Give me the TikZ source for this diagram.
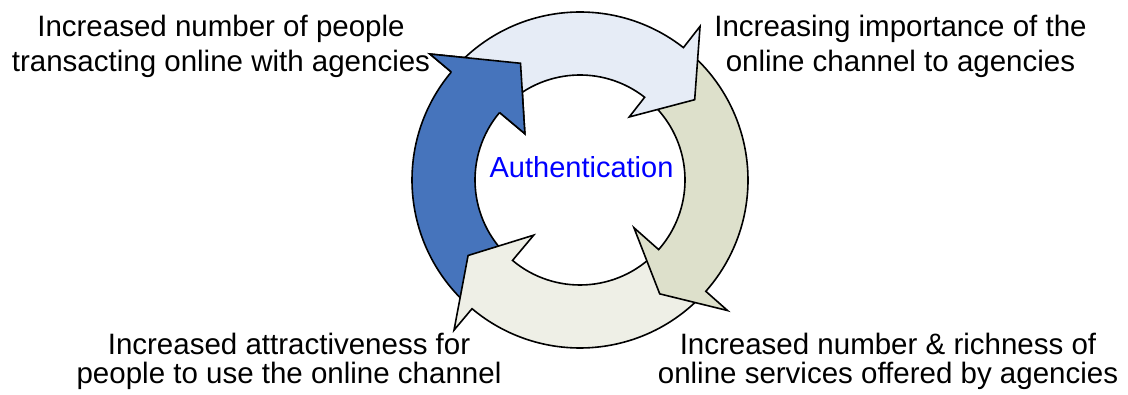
\documentclass[tikz,border=0pt]{standalone}
\usepackage{fontspec}
\setmainfont{Liberation Sans}
\usepackage{xcolor}
\definecolor{arrowblue}{RGB}{70,116,188}
\definecolor{arrowpale}{RGB}{230,236,246}
\definecolor{arrowsage}{RGB}{221,224,203}
\definecolor{arrowcream}{RGB}{238,239,230}
\definecolor{authblue}{RGB}{0,0,255}

\begin{document}
\begin{tikzpicture}[x=1pt,y=1pt]
\tikzstyle{every node}+=[inner sep=0pt]
\tikzstyle{steptext}=[align=center,font=\fontsize{29.5}{35}\selectfont]
\tikzstyle{ring}=[draw=black,line width=1.6pt,line join=miter]
\useasboundingbox (0,0) rectangle (1128,394);
\begin{scope}[shift={(580,214)}]
\draw [ring,fill=arrowblue] (227.5:168) arc[start angle=227.5,end angle=140,radius=168] -- (140:196) -- (117:131) -- (140:72) -- (140:105) arc[start angle=140,end angle=227.5,radius=105] -- cycle;
\draw [ring,fill=arrowcream] (-44:168) arc[start angle=-44,end angle=-130,radius=168] -- (-130:196) -- (-146:135) -- (-130:72) -- (-130:105) arc[start angle=-130,end angle=-44,radius=105] -- cycle;
\draw [ring,fill=arrowsage] (49:168) arc[start angle=49,end angle=-41.5,radius=168] -- (-41.5:197) -- (-55:139) -- (-41.5:72) -- (-41.5:105) arc[start angle=-41.5,end angle=49,radius=105] -- cycle;
\draw [ring,fill=arrowpale] (136:168) arc[start angle=136,end angle=52,radius=168] -- (52:195) -- (35:140) -- (52:80) -- (52:105) arc[start angle=52,end angle=136,radius=105] -- cycle;
\fill [arrowblue] (140:196) -- (117:131) -- (140:72) -- cycle;
\draw [ring] (140:168) -- (140:196) -- (117:131) -- (140:72) -- (140:105);
\end{scope}
\node [font=\fontsize{29}{35}\selectfont,text=authblue,anchor=base] (auth) at (581.5,216) {Authentication};
\node [steptext,anchor=north] (people) at (221,379.5) {Increased number of people\\transacting online with agencies};
\node [steptext,anchor=north] (importance) at (900.5,379.5) {Increasing importance of the\\online channel to agencies};
\node [steptext,anchor=north,font=\fontsize{29.5}{29}\selectfont] (services) at (888,61.5) {Increased number \& richness of\\online services offered by agencies};
\node [steptext,anchor=north,font=\fontsize{29.5}{29}\selectfont] (attract) at (289,61.5) {Increased attractiveness for\\people to use the online channel};
\end{tikzpicture}
\end{document}
